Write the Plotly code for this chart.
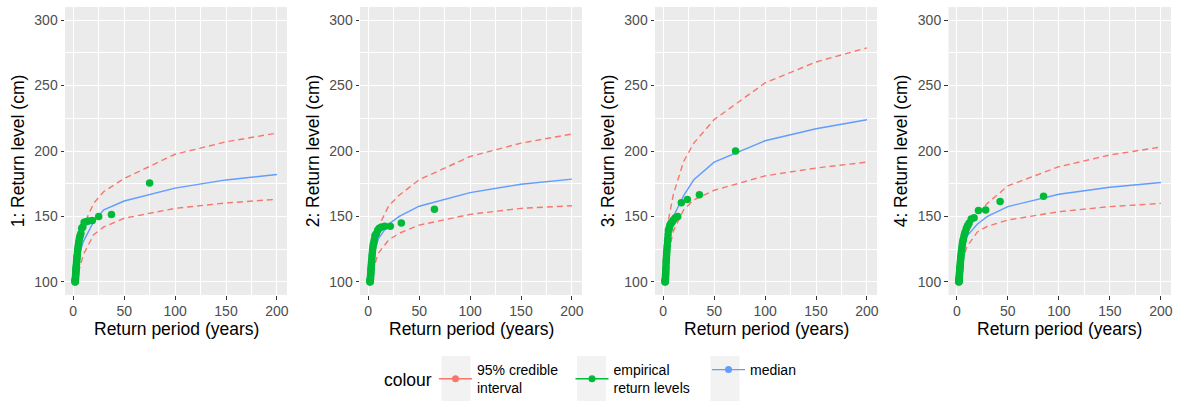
import plotly.graph_objects as go

# ---------------- data ----------------
T_GRID = [1.5, 2, 3, 5, 10, 20, 30, 50, 100, 150, 200]

MEDIAN_1 = [101, 103, 108, 119, 131, 146, 155, 161.8, 171.6, 177.9, 182.0]
UPPER_1 = [102, 105, 112, 125, 143, 160, 169, 179, 197.5, 207, 213.7]
LOWER_1 = [100, 101, 103, 107, 121, 136, 142, 148.6, 156.2, 160.3, 163.1]

MEDIAN_2 = [101, 104, 110, 121, 133, 144, 149.8, 157.8, 168.2, 174.6, 178.5]
UPPER_2 = [102, 106, 114, 127, 142, 158, 166, 178, 195.8, 206, 213]
LOWER_2 = [100, 101.5, 104, 110, 122, 132, 137, 143.4, 151.6, 156.2, 158.2]

MEDIAN_3 = [101, 104, 114, 132, 150, 166, 178, 191.5, 207.8, 217, 223.9]
UPPER_3 = [102, 108, 132, 147, 167, 192, 206, 224, 252, 268, 278.8]
LOWER_3 = [100, 103, 110, 122, 139, 155, 162.6, 170, 181, 187, 191.5]

MEDIAN_4 = [101, 104, 111, 124, 135, 144, 150, 157.5, 167, 172.3, 175.9]
UPPER_4 = [102, 108, 118, 126, 137, 151, 160, 173.3, 188, 197, 203]
LOWER_4 = [100, 102, 107, 115, 127, 138, 142.5, 147.3, 153.6, 157.5, 160]

EMP_T_1 = [75, 37.5, 25, 18.75, 15, 12.5, 10.71, 9.38, 8.33, 7.5, 6.82, 6.25, 5.77, 5.36, 5.0,
           4.69, 4.41, 4.17, 3.95, 3.75, 3.57, 3.41, 3.26, 3.13, 3.0, 2.88, 2.78, 2.68, 2.59, 2.5,
           2.42, 2.34, 2.27, 2.21, 2.14, 2.08, 2.03, 1.97, 1.92, 1.88, 1.83]
EMP_L_1 = [175.5, 151.5, 150, 147, 146.5, 146, 145.5, 142, 141, 137, 135.5, 134, 132, 130, 128,
           126, 124.5, 123, 121, 119.5, 118, 116.5, 115, 113.5, 112, 111, 110, 109, 108, 107,
           106, 105, 104, 103, 102.5, 102, 101.5, 101, 100.5, 100.2, 100]

EMP_T_2 = [65, 32.5, 21.67, 16.25, 13, 10.83, 9.29, 8.13, 7.22, 6.5, 5.91, 5.42, 5.0, 4.64, 4.33,
           4.06, 3.82, 3.61, 3.42, 3.25, 3.1, 2.95, 2.83, 2.71, 2.6, 2.5, 2.41, 2.32, 2.24, 2.17,
           2.1, 2.03, 1.97, 1.91, 1.86, 1.81, 1.76]
EMP_L_2 = [155.5, 145, 142.5, 142.5, 142, 141, 139.5, 137, 136, 135, 132, 130, 128.5, 127, 125,
           123, 121, 119, 117, 115, 113.5, 112, 110.5, 109.5, 108, 107, 106, 105, 104, 103,
           102.5, 102, 101.5, 101, 100.5, 100.2, 100]

EMP_T_3 = [71, 35.5, 23.67, 17.75, 14.2, 11.83, 10.14, 8.88, 7.89, 7.1, 6.45, 5.92, 5.46, 5.07, 4.73,
           4.44, 4.18, 3.94, 3.74, 3.55, 3.38, 3.23, 3.09, 2.96, 2.84, 2.73, 2.63, 2.54, 2.45, 2.37,
           2.29, 2.22, 2.15, 2.09, 2.03, 1.97, 1.92, 1.87, 1.82]
EMP_L_3 = [200, 166.5, 163, 160.5, 150, 149, 147.5, 146, 145, 144, 143, 141, 140, 139, 136,
           133, 131, 128, 126, 124, 122, 120, 118, 116.5, 115, 113, 111, 109.5, 108, 106.5,
           105, 104, 103, 102, 101.5, 101, 100.5, 100.2, 100]

EMP_T_4 = [85, 42.5, 28.33, 21.25, 17, 14.17, 12.14, 10.63, 9.44, 8.5, 7.73, 7.08, 6.54, 6.07, 5.67,
           5.31, 5.0, 4.72, 4.47, 4.25, 4.05, 3.86, 3.7, 3.54, 3.4, 3.27, 3.15, 3.04, 2.93, 2.83,
           2.74, 2.66, 2.58, 2.5, 2.43, 2.36, 2.3, 2.24, 2.18, 2.13, 2.07, 2.02]
EMP_L_4 = [165.5, 161.5, 155, 154.5, 149, 148, 145, 143, 141, 138.5, 137, 135, 133, 131.5, 130,
           128, 126, 124, 122.5, 121, 119.5, 118, 116.5, 115, 113.5, 112, 111, 110, 109, 108,
           107, 106, 105, 104, 103, 102.5, 102, 101.5, 101, 100.5, 100.2, 100]

PANEL_LABELS = ["1", "2", "3", "4"]
SERIES_NAMES = ["95% credible<br>interval", "empirical<br>return levels", "median"]
LEGEND_TITLE = "colour"
X_TITLE = "Return period (years)"
Y_TITLE = "Return level (cm)"

X_TICKS = [0, 50, 100, 150, 200]
Y_TICKS = [100, 150, 200, 250, 300]

# ---------------- style / layout ----------------
RED = "#F8766D"
GREEN = "#00BA38"
BLUE = "#619CFF"
FONT = "Liberation Sans, Arial, sans-serif"

W, H = 1178, 401
ML, MR, MT, MB = 65, 7, 7, 106
PW, PH = W - ML - MR, H - MT - MB


def px_x(p):
    return (p - ML) / PW


def px_y(p):
    return (H - MB - p) / PH


PANEL_PX = [(65, 287), (360, 582), (655, 877), (948.5, 1171)]

medians = [MEDIAN_1, MEDIAN_2, MEDIAN_3, MEDIAN_4]
uppers = [UPPER_1, UPPER_2, UPPER_3, UPPER_4]
lowers = [LOWER_1, LOWER_2, LOWER_3, LOWER_4]
emp_t = [EMP_T_1, EMP_T_2, EMP_T_3, EMP_T_4]
emp_l = [EMP_L_1, EMP_L_2, EMP_L_3, EMP_L_4]

fig = go.Figure()
layout = {}
annotations = []
for i in range(4):
    sfx = "" if i == 0 else str(i + 1)
    xa, ya = "x" + sfx, "y" + sfx
    for band in (uppers[i], lowers[i]):
        fig.add_trace(go.Scatter(x=T_GRID, y=band, mode="lines", xaxis=xa, yaxis=ya,
                                 line=dict(color=RED, width=1.4, dash="6px,4px"),
                                 showlegend=False))
    fig.add_trace(go.Scatter(x=T_GRID, y=medians[i], mode="lines", xaxis=xa, yaxis=ya,
                             line=dict(color=BLUE, width=1.4), showlegend=False))
    fig.add_trace(go.Scatter(x=emp_t[i], y=emp_l[i], mode="markers", xaxis=xa, yaxis=ya,
                             marker=dict(color=GREEN, size=7.5), showlegend=False))

    x0, x1 = PANEL_PX[i]
    axis_common = dict(
        showline=False, zeroline=False, ticks="outside", ticklen=3.5, tickwidth=1.1,
        tickcolor="#333333", tickfont=dict(family=FONT, size=14, color="#4D4D4D"),
        showgrid=True, gridcolor="white", gridwidth=1.4,
        automargin=False,
    )
    layout["xaxis" + sfx] = dict(
        axis_common, domain=[px_x(x0), px_x(x1)], anchor=ya, range=[-8.1, 209.9],
        tickvals=X_TICKS, ticktext=[str(v) for v in X_TICKS],
        minor=dict(showgrid=True, gridcolor="white", gridwidth=0.7, dtick=25, tick0=0),
    )
    layout["yaxis" + sfx] = dict(
        axis_common, domain=[0, 1], anchor=xa, range=[90, 310],
        tickvals=Y_TICKS, ticktext=[str(v) for v in Y_TICKS],
        minor=dict(showgrid=True, gridcolor="white", gridwidth=0.7, dtick=25, tick0=0),
        title=dict(text=PANEL_LABELS[i] + ": " + Y_TITLE,
                   font=dict(family=FONT, size=17.5, color="black"), standoff=5),
    )
    # x-axis title, centred under the panel
    annotations.append(dict(text=X_TITLE, xref="paper", yref="paper",
                            x=px_x((x0 + x1) / 2), y=px_y(329),
                            xanchor="center", yanchor="middle", showarrow=False,
                            font=dict(family=FONT, size=17.5, color="black")))

# legend-only entries (line + point keys as in the reference)
for name, col in zip(SERIES_NAMES, [RED, GREEN, BLUE]):
    fig.add_trace(go.Scatter(x=[None], y=[None], mode="lines+markers", name=name,
                             line=dict(color=col, width=1.4), marker=dict(color=col, size=7),
                             showlegend=True))

# grey legend key backgrounds
shapes = []
for kx0, kx1 in [(441.5, 470.5), (577, 606), (710.5, 739.5)]:
    shapes.append(dict(type="rect", xref="paper", yref="paper", layer="below",
                       x0=px_x(kx0), x1=px_x(kx1), y0=px_y(401), y1=px_y(356),
                       fillcolor="#F2F2F2", line=dict(width=0)))

annotations.append(dict(text=LEGEND_TITLE, xref="paper", yref="paper", x=px_x(407.5), y=px_y(380),
                        xanchor="center", yanchor="middle", showarrow=False,
                        font=dict(family=FONT, size=17.5, color="black")))

fig.update_layout(
    width=W, height=H,
    margin=dict(l=ML, r=MR, t=MT, b=MB),
    paper_bgcolor="white", plot_bgcolor="#EBEBEB",
    font=dict(family=FONT),
    shapes=shapes,
    annotations=annotations,
    showlegend=True,
    legend=dict(
        orientation="h", xref="container", yref="container",
        x=434 / W, y=1 - 354 / H, xanchor="left", yanchor="top",
        font=dict(family=FONT, size=14, color="black"),
        bgcolor="rgba(0,0,0,0)", itemwidth=33, entrywidth=88.5, entrywidthmode="pixels",
        tracegroupgap=0,
    ),
    **layout,
)

fig.write_html("out.html")
